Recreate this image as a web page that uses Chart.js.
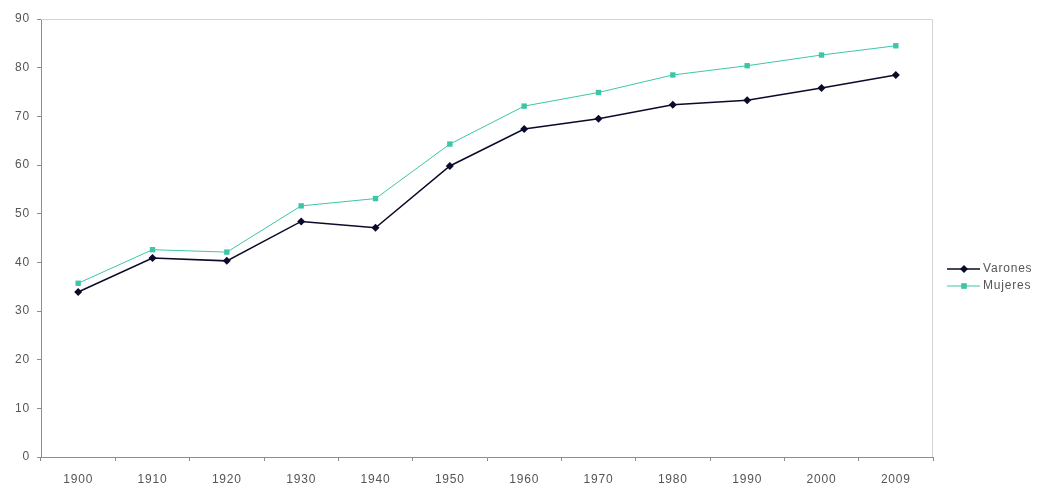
<!DOCTYPE html>
<html>
<head>
<meta charset="utf-8">
<script src="https://cdn.jsdelivr.net/npm/chart.js@4/dist/chart.umd.min.js"></script>
<style>
    html, body { margin: 0; padding: 0; background: #ffffff; }
    #wrap { width: 1040px; height: 488px; position: relative; }
</style>
</head>
<body>
<div id="wrap"><canvas id="lifeChart"></canvas></div>
<script>
const years = ["1900", "1910", "1920", "1930", "1940", "1950", "1960", "1970", "1980", "1990", "2000", "2009"];
const varones = [33.9, 40.9, 40.3, 48.4, 47.1, 59.8, 67.4, 69.5, 72.4, 73.3, 75.8, 78.5];
const mujeres = [35.7, 42.6, 42.1, 51.6, 53.1, 64.3, 72.1, 74.9, 78.5, 80.4, 82.6, 84.5];
const yTicks = [0, 10, 20, 30, 40, 50, 60, 70, 80, 90];

const colorVarones = "#0a0a2a";
const colorMujeres = "#3cc6a8";
const textColor = "#555555";
const axisColor = "#8c8c8c";
const fontFamily = "'Liberation Sans', Arial, sans-serif";
const letterGap = "0.8px";

// legend: line through a marker, drawn by hand
const legendItems = [
    { label: "Varones", color: colorVarones, style: "rectRot", width: 1.5 },
    { label: "Mujeres", color: colorMujeres, style: "rect", width: 1 }
];

// the reference text is set wide, so space the letters out a little
const spacingPlugin = {
    id: "wideText",
    beforeDraw(chart) {
        chart.ctx.letterSpacing = letterGap;
    }
};

const legendPlugin = {
    id: "sideLegend",
    afterDraw(chart) {
        const ctx = chart.ctx;
        const area = chart.chartArea;
        const x0 = area.right + 14;
        let y = area.top + (area.bottom - area.top) / 2 + 31;

        ctx.save();
        ctx.letterSpacing = letterGap;
        ctx.font = "12px " + fontFamily;
        ctx.textBaseline = "middle";
        ctx.textAlign = "left";

        legendItems.forEach(item => {
            ctx.strokeStyle = item.color;
            ctx.lineWidth = item.width;
            ctx.beginPath();
            ctx.moveTo(x0, y);
            ctx.lineTo(x0 + 33, y);
            ctx.stroke();

            ctx.fillStyle = item.color;
            Chart.helpers.drawPoint(ctx, { pointStyle: item.style, radius: 4, borderWidth: 0 }, x0 + 17, y);

            ctx.fillStyle = textColor;
            ctx.fillText(item.label, x0 + 36, y);
            y += 17;
        });
        ctx.restore();
    }
};

const framePlugin = {
    id: "plotFrame",
    beforeDatasetsDraw(chart) {
        const ctx = chart.ctx;
        const a = chart.chartArea;
        ctx.save();
        ctx.strokeStyle = "#d4d4d4";
        ctx.lineWidth = 1;
        ctx.beginPath();
        ctx.moveTo(a.left, a.top + 0.5);
        ctx.lineTo(a.right - 0.5, a.top + 0.5);
        ctx.lineTo(a.right - 0.5, a.bottom);
        ctx.stroke();
        ctx.restore();
    }
};

new Chart(document.getElementById("lifeChart"), {
    type: "line",
    data: {
        labels: years,
        datasets: [
            {
                label: "Varones",
                data: varones,
                borderColor: colorVarones,
                backgroundColor: colorVarones,
                borderWidth: 1.5,
                pointStyle: "rectRot",
                pointRadius: 4,
                pointBorderWidth: 0,
                tension: 0
            },
            {
                label: "Mujeres",
                data: mujeres,
                borderColor: colorMujeres,
                backgroundColor: colorMujeres,
                borderWidth: 1,
                pointStyle: "rect",
                pointRadius: 3.8,
                pointBorderWidth: 0,
                tension: 0
            }
        ]
    },
    options: {
        responsive: true,
        maintainAspectRatio: false,
        animation: false,
        layout: {
            padding: { top: 19, right: 107, left: 0, bottom: 0 }
        },
        plugins: {
            legend: { display: false },
            tooltip: { enabled: false }
        },
        scales: {
            x: {
                offset: true,
                grid: {
                    display: true,
                    offset: true,
                    drawOnChartArea: false,
                    drawTicks: true,
                    tickLength: 4,
                    color: axisColor
                },
                border: { display: true, color: axisColor, width: 1 },
                ticks: {
                    color: textColor,
                    padding: 11,
                    maxRotation: 0,
                    autoSkip: false,
                    font: { family: fontFamily, size: 12 }
                },
                afterFit(scale) { scale.height = 31; }
            },
            y: {
                min: 0,
                max: 90,
                afterBuildTicks(scale) {
                    scale.ticks = yTicks.map(v => ({ value: v }));
                },
                grid: {
                    display: true,
                    drawOnChartArea: false,
                    drawTicks: true,
                    tickLength: 4,
                    color: axisColor
                },
                border: { display: true, color: axisColor, width: 1 },
                ticks: {
                    color: textColor,
                    padding: 7,
                    font: { family: fontFamily, size: 12 }
                },
                afterFit(scale) { scale.width = 41; }
            }
        }
    },
    plugins: [spacingPlugin, framePlugin, legendPlugin]
});
</script>
</body>
</html>
